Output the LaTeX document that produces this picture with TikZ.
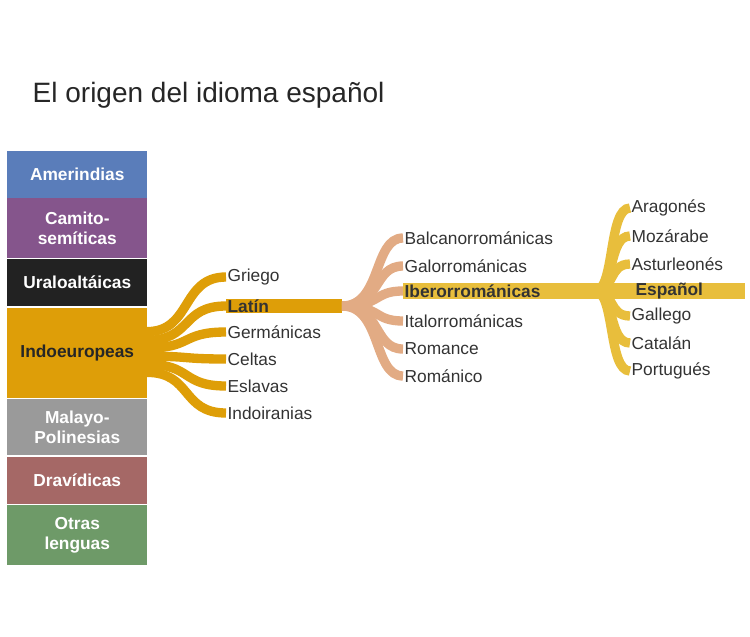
\documentclass[tikz,border=0pt]{standalone}
\usepackage{fontspec}
\setmainfont{Liberation Sans}
\begin{document}
\begin{tikzpicture}[x=0.75pt,y=-0.75pt,
  box/.style={draw=none,minimum width=105pt,inner sep=0pt,font=\bfseries\fontsize{13}{15}\selectfont,text=white,align=center,anchor=north west},
  lab/.style={anchor=west,inner sep=1pt,font=\fontsize{13}{15}\selectfont,text=black!80},
  blab/.style={lab,font=\bfseries\fontsize{13}{15}\selectfont},
  br/.style={line width=7pt,line cap=butt}]
\useasboundingbox (0,0) rectangle (750,636);
\definecolor{cblue}{HTML}{5A7DBA}\definecolor{cpurp}{HTML}{85558C}
\definecolor{cblack}{HTML}{222222}\definecolor{corange}{HTML}{DE9E08}
\definecolor{cgray}{HTML}{9A9A9A}\definecolor{crose}{HTML}{A56866}
\definecolor{cgreen}{HTML}{6E9A68}\definecolor{csalmon}{HTML}{E2AB84}
\definecolor{cgold}{HTML}{E8BE3C}
\node[anchor=west,font=\fontsize{21}{24}\selectfont,text=black!85] (title) at (28,95) {El origen del idioma español};
\node[box,fill=cblue,minimum height=35pt] (am) at (7,151) {Amerindias};
\node[box,fill=cpurp,minimum height=45pt] (ca) at (7,198) {Camito-\\semíticas};
\node[box,fill=cblack,minimum height=35pt] (ur) at (7,259) {Uraloaltáicas};
\node[box,fill=corange,minimum height=67pt,text=black!85] (in) at (7,308) {Indoeuropeas};
\node[box,fill=cgray,minimum height=42pt] (ma) at (7,399) {Malayo-\\Polinesias};
\node[box,fill=crose,minimum height=35pt] (dr) at (7,457) {Dravídicas};
\node[box,fill=cgreen,minimum height=45pt] (ot) at (7,505) {Otras\\lenguas};
% connectors
\foreach \n/\y in {gr/277, la/306, ge/332, ce/359, es/386, ir/413}{
  \coordinate (c\n) at (226,\y);
  \draw[br,corange] (147,355+0.3*\y-0.3*355) .. controls +(45,0) and +(-45,0) .. (c\n);
}
\coordinate (lend) at (342,306);
\draw[corange,line width=11pt] (cla) -- (lend);
\foreach \n/\y in {ba/238, ga/266, ib/291, it/321, ro/349, rm/376}{
  \coordinate (c\n) at (403,\y);
  \draw[br,csalmon] (lend) .. controls +(40,0) and +(-30,0) .. (c\n);
}
\coordinate (iend) at (745,291);
\draw[cgold,line width=12pt] (cib) -- (iend);
\coordinate (gs) at (595,291);
\foreach \n/\y in {ar/208, mo/236, as/264, ep/291, gl/316, ct/343, pt/371}{
  \coordinate (c\n) at (630,\y);
  \draw[br,cgold] (gs) .. controls +(20,0) and +(-22,0) .. (c\n);
}
% labels
\foreach \n/\t/\s in {gr/Griego/lab, la/Latín/blab, ge/Germánicas/lab, ce/Celtas/lab, es/Eslavas/lab, ir/Indoiranias/lab,
  ba/Balcanorrománicas/lab, ga/Galorrománicas/lab, ib/Iberorrománicas/blab, it/Italorrománicas/lab, ro/Romance/lab, rm/Románico/lab,
  ar/Aragonés/lab, mo/Mozárabe/lab, as/Asturleonés/lab, gl/Gallego/lab, ct/Catalán/lab, pt/Portugués/lab}{
  \node[\s] (\n) at (c\n) {\t};
}
\node[blab] (ep) at ([xshift=3pt]cep) {Español};
\end{tikzpicture}
\end{document}
